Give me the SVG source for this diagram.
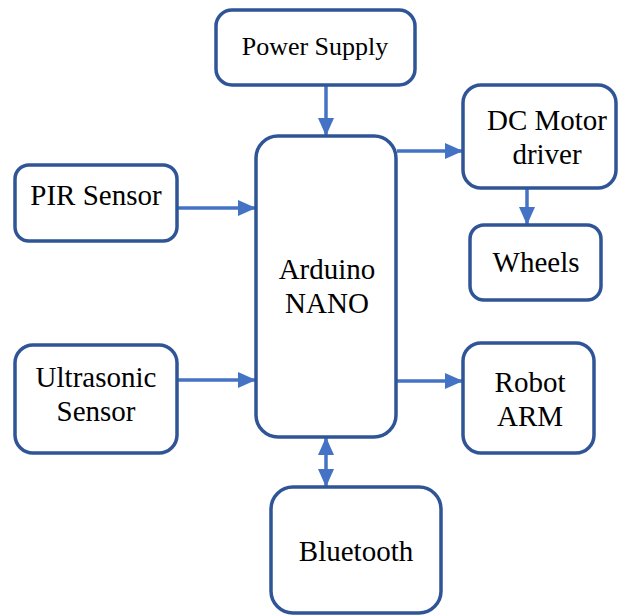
<svg xmlns="http://www.w3.org/2000/svg" width="619" height="615" viewBox="0 0 619 615">
<style>
.box{fill:#fff;stroke:#2F5597;stroke-width:3.5}
.c{stroke:#4472C4;stroke-width:3.5;fill:none}
</style>
<defs>
<marker id="ah" markerUnits="userSpaceOnUse" markerWidth="18" markerHeight="16" refX="17" refY="8" orient="auto">
<path d="M0,0 L18,8 L0,16 Z" fill="#4472C4"/>
</marker>
<marker id="as" markerUnits="userSpaceOnUse" markerWidth="18" markerHeight="16" refX="1" refY="8" orient="auto">
<path d="M18,0 L0,8 L18,16 Z" fill="#4472C4"/>
</marker>
</defs>
<rect width="619" height="615" fill="#fff"/>
<g id="connectors">
<line class="c" x1="326" y1="86" x2="326" y2="135" marker-end="url(#ah)"/>
<line class="c" x1="397" y1="151" x2="462" y2="151" marker-end="url(#ah)"/>
<line class="c" x1="527" y1="189" x2="527" y2="224" marker-end="url(#ah)"/>
<line class="c" x1="178" y1="208" x2="255" y2="208" marker-end="url(#ah)"/>
<line class="c" x1="178" y1="380" x2="255" y2="380" marker-end="url(#ah)"/>
<line class="c" x1="397" y1="381" x2="462" y2="381" marker-end="url(#ah)"/>
<line class="c" x1="326" y1="438" x2="326" y2="486" marker-start="url(#as)" marker-end="url(#ah)"/>
</g>
<g id="power"><rect class="box" x="216" y="10" width="199" height="75" rx="16"/><text x="315" y="55" font-size="26" font-family="Times New Roman" text-anchor="middle">Power Supply</text></g>
<g id="arduino"><rect class="box" x="256" y="136" width="140" height="301" rx="22"/><text x="327" y="279" font-size="29" font-family="Times New Roman" text-anchor="middle">Arduino</text><text x="327" y="313" font-size="29" font-family="Times New Roman" text-anchor="middle">NANO</text></g>
<g id="dcmotor"><rect class="box" x="463" y="85" width="153" height="103" rx="18"/><text x="547" y="130" font-size="29" font-family="Times New Roman" text-anchor="middle">DC Motor</text><text x="547" y="164" font-size="29" font-family="Times New Roman" text-anchor="middle">driver</text></g>
<g id="wheels"><rect class="box" x="470" y="225" width="131" height="75" rx="14"/><text x="536" y="272" font-size="29" font-family="Times New Roman" text-anchor="middle">Wheels</text></g>
<g id="pir"><rect class="box" x="15" y="165" width="162" height="76" rx="14"/><text x="96" y="205" font-size="29" font-family="Times New Roman" text-anchor="middle">PIR Sensor</text></g>
<g id="ultrasonic"><rect class="box" x="15" y="345" width="162" height="108" rx="18"/><text x="96" y="387" font-size="29" font-family="Times New Roman" text-anchor="middle">Ultrasonic</text><text x="96" y="421" font-size="29" font-family="Times New Roman" text-anchor="middle">Sensor</text></g>
<g id="robot"><rect class="box" x="463" y="343" width="131" height="110" rx="18"/><text x="530" y="392" font-size="29" font-family="Times New Roman" text-anchor="middle">Robot</text><text x="530" y="426" font-size="29" font-family="Times New Roman" text-anchor="middle">ARM</text></g>
<g id="bluetooth"><rect class="box" x="271" y="487" width="170" height="126" rx="22"/><text x="356" y="561" font-size="29" font-family="Times New Roman" text-anchor="middle">Bluetooth</text></g>
</svg>
